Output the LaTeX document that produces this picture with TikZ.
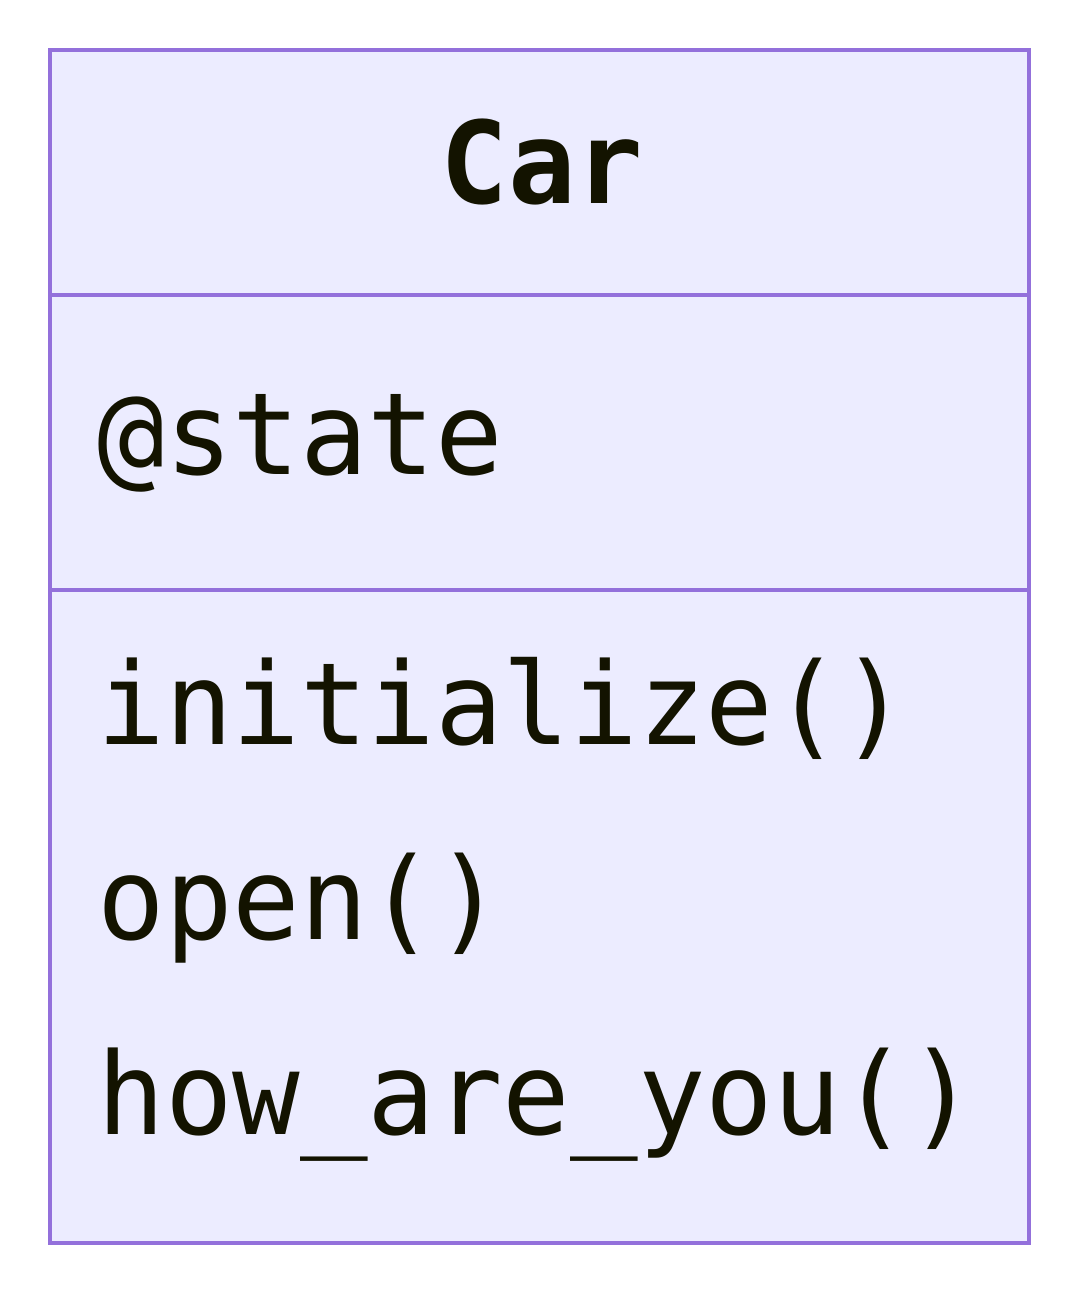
\documentclass[tikz,border=0pt]{standalone}
\usepackage{fontspec}
\setmonofont[FakeStretch=0.985]{DejaVu Sans Mono}
\usepackage{tikz}
\usetikzlibrary{positioning}
\definecolor{classborder}{HTML}{9370DB}
\definecolor{classfill}{HTML}{ECECFF}
\definecolor{classtext}{HTML}{131300}

\begin{document}
\begin{tikzpicture}[x=0.5pt, y=-0.5pt,
    part/.style={draw=classborder, fill=classfill, line width=2pt, outer sep=0pt, minimum width=489.5pt, inner sep=0pt},
    member/.style={anchor=base west, inner sep=0pt, text=classtext, font=\ttfamily\fontsize{57}{62}\selectfont}]
    \useasboundingbox (0,0) rectangle (1080,1294);
    \node[part, anchor=north west, minimum height=122.5pt] (head) at (50,50) {};
    \node[part, below=0pt of head, minimum height=147.5pt] (attrs) {};
    \node[part, below=0pt of attrs, minimum height=326.5pt] (methods) {};

    \node[member, anchor=base, font=\ttfamily\bfseries\fontsize{57}{62}\selectfont] (name) at (542,204) {Car};
    \node[member] (state) at (97,474) {@state};
    \node[member] (init) at (97,744) {initialize()};
    \node[member] (open) at (97,939) {open()};
    \node[member] (how) at (97,1134) {how\_are\_you()};
\end{tikzpicture}
\end{document}
